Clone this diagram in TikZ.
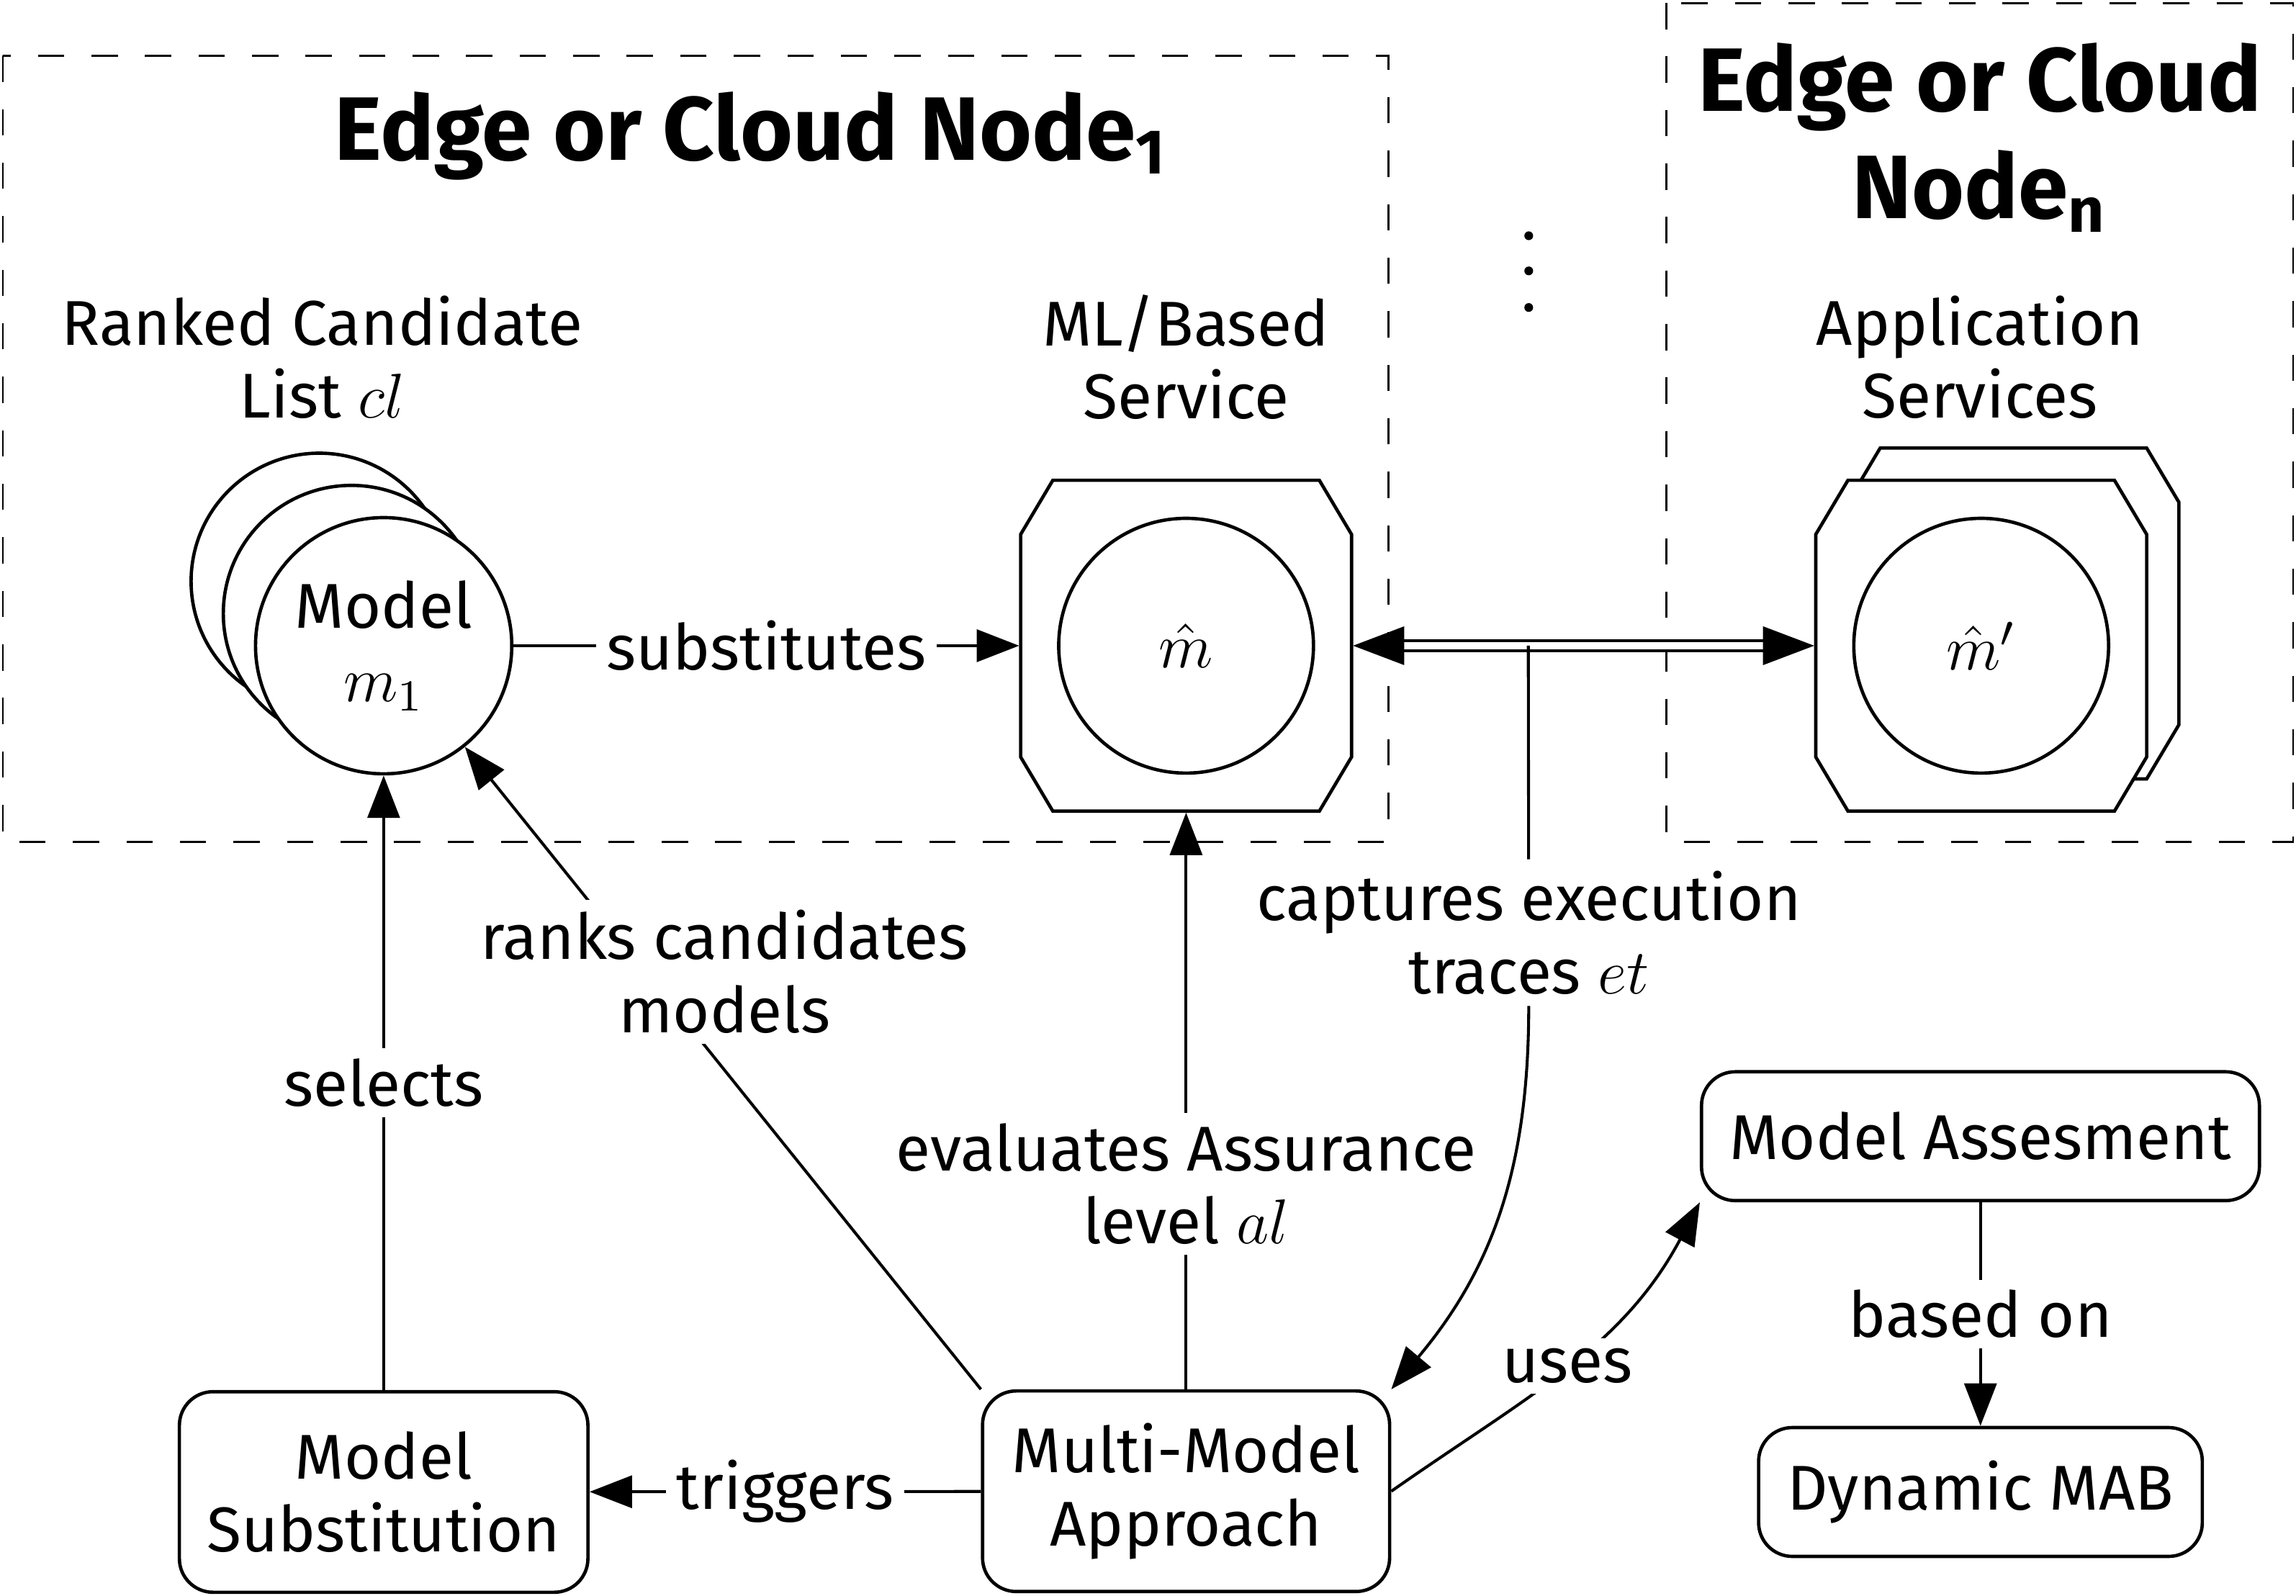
\RequirePackage{fix-cm}
\documentclass[tikz,border=0pt]{standalone}
\usepackage{fontspec}
\setmainfont{Fira Sans}
\usetikzlibrary{arrows.meta, positioning, calc}
\tikzset{
    regionBox/.style={draw, dash pattern=on 5.1pt off 5.3pt, line width=0.4pt},
    modelNode/.style={circle, draw, fill=white, line width=0.65pt, minimum size=1.75cm, inner sep=0pt, align=center},
    svcNode/.style={minimum width=2.26cm, minimum height=2.26cm, inner sep=0pt},
    stepBox/.style={draw, rounded corners=2.3mm, line width=0.65pt, align=center, minimum height=1.37cm},
    edgeLbl/.style={fill=white, inner sep=2pt, align=center},
    headLbl/.style={align=center, font=\fontsize{17.5}{20.9}\selectfont\bfseries},
    capLbl/.style={align=center}
}
\newcommand{\octaShape}[1]{%
  \draw[line width=0.65pt, fill=white, shift={(#1)}] (-0.91,1.13) -- (0.91,1.13) -- (1.13,0.76) -- (1.13,-0.76)
    -- (0.91,-1.13) -- (-0.91,-1.13) -- (-1.13,-0.76) -- (-1.13,0.76) -- cycle;
  \draw[line width=0.65pt] (#1) circle (0.87cm);}

\begin{document}
\begin{tikzpicture}[>={Triangle[length=2.9mm, width=2.2mm]}, line width=0.57pt, font=\fontsize{12.3}{14.2}\selectfont]
    \useasboundingbox (0,0) rectangle (15.68,-10.90);
    % node regions
    \draw[regionBox] (0.02,-0.38) rectangle (9.48,-5.75);
    \draw[regionBox] (11.38,-0.02) rectangle (15.66,-5.75);
    \node[headLbl] (head1) at (5.13,-0.93) {Edge or Cloud Node\textsubscript{1}};
    \node[headLbl] (headn) at (13.52,-0.94) {Edge or Cloud\\Node\textsubscript{n}};
    \foreach \y in {-1.61,-1.85,-2.10} \fill (10.44,\y) circle (0.03);

    % captions
    \node[capLbl] (rankLbl) at (2.20,-2.44) {Ranked Candidate\\List $cl$};
    \node[capLbl] (mlLbl) at (8.10,-2.44) {ML/Based\\Service};
    \node[capLbl] (appLbl) at (13.52,-2.44) {Application\\Services};

    % candidate models
    \node[modelNode] (m3) at (2.18,-3.97) {};
    \node[modelNode] (m2) at (2.40,-4.19) {};
    \node[modelNode] (m1) at (2.62,-4.41) {Model\\$m_1$};

    % services
    \coordinate (svcC) at (8.10,-4.41);
    \octaShape{svcC}
    \node[svcNode] (svc) at (svcC) {$\hat{m}$};
    \coordinate (appBack) at (13.75,-4.19);
    \octaShape{appBack}
    \coordinate (appC) at (13.53,-4.41);
    \octaShape{appC}
    \node[svcNode] (app) at (appC) {$\hat{m}'$};

    % approach
    \node[stepBox, minimum width=2.79cm] (subst) at (2.62,-10.19) {Model\\Substitution};
    \node[stepBox, minimum width=2.78cm] (multi) at (8.10,-10.185) {Multi-Model\\Approach};
    \node[stepBox, minimum width=3.81cm, minimum height=0.88cm] (assess) at (13.525,-7.76) {Model Assesment};
    \node[stepBox, minimum width=3.03cm, minimum height=0.88cm] (mab) at (13.525,-10.19) {Dynamic MAB};

    \draw[->] (m1) -- node[edgeLbl]{substitutes} (svc);
    \draw[->] (subst) -- node[edgeLbl]{selects} (m1);
    \draw[->] (multi.north west) -- node[edgeLbl, pos=0.65, xshift=5.4mm]{ranks candidates\\models} (m1);
    \draw[->] (multi) -- node[edgeLbl, pos=0.356]{evaluates Assurance\\level $al$} (svc);
    \draw[double, double distance=1.3pt, {Triangle[length=3.5mm, width=2.6mm]}-{Triangle[length=3.5mm, width=2.6mm]}] (svc) -- coordinate[pos=0.38] (tap) (app);
    \node[edgeLbl] (trace) at (10.44,-6.37) {captures execution\\traces $et$};
    \draw (tap) -- (trace);
    \draw[->] (trace.south) to[out=-90, in=50] (multi.north east);
    \draw[->] (multi.east) to[out=35, in=-118] node[edgeLbl, pos=0.5]{uses} (assess.south west);
    \draw[->] (assess) -- node[edgeLbl]{based on} (mab);
    \draw[->] (multi) -- node[edgeLbl]{triggers} (subst);
\end{tikzpicture}
\end{document}
